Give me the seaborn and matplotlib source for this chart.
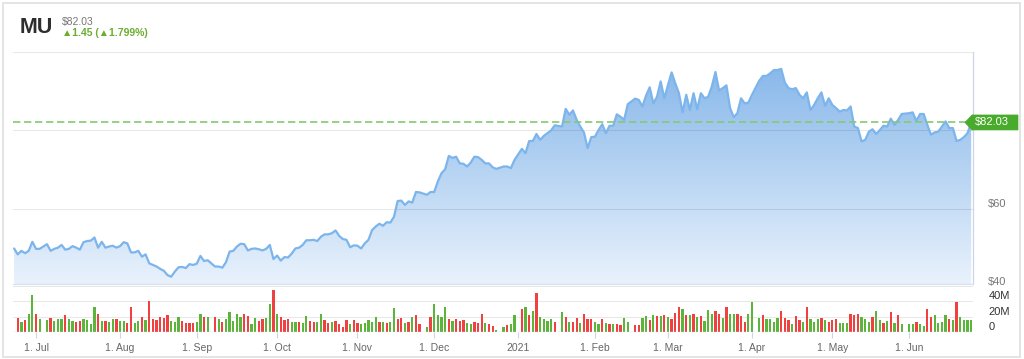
import numpy as np
import pandas as pd
import matplotlib
matplotlib.use("Agg")
import matplotlib.pyplot as plt
import seaborn as sns
from matplotlib.colors import LinearSegmentedColormap
from matplotlib.patches import Polygon, Rectangle

# ---------------- data ----------------
ticker = "MU"
last_price = 82.03
change_abs = 1.45
change_pct = 1.799

first_day = "2020-06-23"
last_day = "2021-06-24"
market_holidays = ["2020-07-03", "2020-09-07", "2020-11-26", "2020-12-25",
                   "2021-01-01", "2021-01-18", "2021-02-15", "2021-04-02",
                   "2021-05-31"]

close = [
    # Jun 23 - Jul 2 2020
    49.9, 48.4, 49.3, 48.7, 49.3, 51.6, 49.8, 49.8,
    # Jul 6 - Sep 4
    51.0, 49.3, 49.8, 50.1, 50.8, 49.6, 49.8, 50.5, 50.1, 49.6,
    51.5, 51.8, 51.9, 52.7, 50.1, 51.6, 50.1, 50.4, 50.6, 50.1,
    50.5, 51.5, 51.2, 48.9, 48.9, 49.3, 47.8, 48.4, 46.1, 45.7,
    45.3, 44.7, 44.2, 43.1, 42.7, 44.0, 45.1, 45.2, 44.9, 45.9,
    45.7, 46.0, 48.0, 46.7, 46.9,
    # Sep 8 - Nov 25
    45.3, 45.3, 45.0, 46.4, 49.1, 49.3, 50.4, 51.1, 51.0, 49.4,
    49.8, 49.9, 49.7, 49.4, 49.8, 50.8, 47.2, 48.1, 46.8, 47.7,
    47.6, 48.6, 49.9, 50.1, 50.8, 52.0, 52.0, 52.1, 51.8, 52.9,
    53.5, 53.5, 53.8, 54.5, 53.1, 52.3, 52.1, 50.2, 50.7, 50.6,
    49.9, 51.2, 52.1, 54.6, 55.5, 56.2, 55.7, 56.6, 56.5, 58.0,
    62.0, 62.1, 61.0, 61.9, 61.6, 64.3, 64.2,
    # Nov 27 - Dec 24
    63.6, 64.3, 64.3, 67.0, 69.1, 70.1, 73.5, 73.0, 73.3, 71.6,
    71.5, 70.8, 71.8, 73.3, 73.2, 72.5, 71.6, 71.6, 70.6, 70.2,
    # Dec 28 - Dec 31
    70.8, 70.8, 70.4, 72.5,
    # Jan 4 - Jan 15 2021
    75.3, 74.2, 77.3, 77.3, 79.1, 77.6, 78.6, 79.3, 80.0, 81.3,
    # Jan 19 - Feb 12
    81.0, 85.5, 84.0, 85.1, 82.7, 81.0, 79.5, 75.5, 78.3, 78.4,
    80.1, 81.6, 79.3, 81.2, 81.2, 84.1, 83.5, 82.7, 86.7,
    # Feb 16 - Apr 1
    88.1, 87.8, 86.1, 88.9, 91.0, 86.9, 88.6, 92.5, 88.2, 91.6,
    94.8, 92.0, 89.5, 84.6, 89.1, 85.2, 89.5, 85.4, 89.5, 88.2,
    88.6, 91.2, 94.9, 90.2, 90.8, 91.5, 85.7, 83.4, 84.4, 88.2,
    86.9, 87.1, 89.1,
    # Apr 5 - May 28
    92.7, 93.9, 93.9, 94.6, 95.4, 95.4, 95.7, 92.2, 90.8, 90.5,
    90.8, 89.1, 88.2, 89.7, 85.2, 86.5, 88.2, 89.7, 86.3, 88.2,
    86.5, 85.7, 84.8, 85.2, 85.1, 86.1, 81.0, 80.6, 77.2, 77.6,
    79.7, 80.3, 79.1, 80.1, 81.2, 81.0, 83.0, 81.4, 82.7, 84.2,
    # Jun 1 - Jun 24
    84.4, 84.6, 82.4, 84.2, 84.2, 81.4, 78.9, 79.5, 79.7, 81.0,
    82.3, 80.6, 80.6, 77.3, 77.6, 78.3, 79.3, 82.03,
]

# volume in millions of shares
volume_m = [
    np.nan, 18, 13, 16, 24, 48, 24, 17,
    16, 18, 14, 17, 17, 22, 17, 14, 13, 14,
    17, 16, 11, 33, 24, 14, 14, 13, 17, 17,
    14, 14, 12, 32, 12, 14, 20, 16, 40, 17,
    16, 20, 18, 22, 14, 13, 20, 14, 12, 12,
    12, 13, 24, 19, 19,
    19, 17, 13, 17, 26, 14, 23, 20, 24, 21,
    10, 18, 14, 17, 18, 36, 55, 23, 20, 16,
    17, 13, 13, 13, 12, 21, 14, 13, 13, 23,
    16, 12, 13, 14, 11, 7, 15, 11, 15, 12,
    11, 12, 16, 13, 20, 13, 13, 12, 13, 31,
    17, 18, 12, 13, 20, 22, 11,
    6, 20, 36, 22, 20, 32, 17, 14, 17, 14,
    15, 12, 11, 13, 12, 23, 12, 10, 8, 3,
    7, 9, 11, 22,
    30, 33, 22, 27, 51, 20, 17, 14, 17, 13,
    26, 20, 13, 13, 18, 12, 23, 17, 17, 13,
    10, 17, 12, 10, 11, 10, 9, 18, 13,
    9, 9, 18, 21, 15, 22, 21, 21, 22, 19,
    17, 25, 32, 30, 22, 22, 23, 20, 21, 14,
    28, 24, 27, 24, 18, 32, 23, 23, 23, 21,
    13, 24, 39,
    18, 22, 17, 17, 13, 18, 27, 18, 15, 11,
    21, 16, 13, 33, 17, 13, 17, 18, 16, 13,
    16, 17, 12, 12, 12, 24, 22, 23, 20, 17,
    13, 20, 27, 16, 12, 14, 26, 12, 22, 10,
    10, 10, 13, 11, 8, 30, 20, 22, 12, 13,
    22, 17, 15, 39, 20, 16, 16, 15,
]

# u = up day (green bar), d = down day (red bar), one per trading day
direction = (
    "ududuudu"
    "uduuu" "duudd" "uuuud" "uduud" "uuddu" "ududd" "ddddu" "uuddd" "duudu"
    "duduu" "uuudd" "uuddu" "ududd" "duudu" "udduu"
    "ddudd" "ddudd" "uuuuu" "duduu" "ddudu" "dd"
    "uduuu" "ududd" "duudd" "duddu"
    "uduu"
    "dudud" "uuuud"
    "ududd" "udddu" "ududu" "dduu"
    "dduud" "ududu" "dddud" "ududu" "uuddu" "duudd" "duu"
    "uduuu" "udddu" "ddudu" "uudud" "dduuu" "ddduu" "uduud" "ududu"
    "uuduu" "dduuu" "ududu" "uuu"
)

month_starts = ["2020-07-01", "2020-08-01", "2020-09-01", "2020-10-01",
                "2020-11-01", "2020-12-01", "2021-01-01", "2021-02-01",
                "2021-03-01", "2021-04-01", "2021-05-01", "2021-06-01"]
month_labels = ["1. Jul", "1. Aug", "1. Sep", "1. Oct", "1. Nov", "1. Dec",
                "2021", "1. Feb", "1. Mar", "1. Apr", "1. May", "1. Jun"]
price_labels = [60, 40]
price_grid = [60, 80, 100]
volume_labels = [0, 20, 40]
volume_grid = [20, 40, 60]

# ---------------- positions (weekday slots, holidays leave a gap) ----------------
weekdays = pd.bdate_range(first_day, last_day)
trading = weekdays.difference(pd.to_datetime(market_holidays))
slot = {d: i for i, d in enumerate(weekdays)}
pos = np.array([slot[d] for d in trading])
dirs = list(direction)
n = min(len(pos), len(close), len(volume_m), len(dirs))

df = pd.DataFrame({"pos": pos[:n], "close": close[:n],
                   "vol": volume_m[:n], "dir": dirs[:n]})
tick_pos = [weekdays.searchsorted(pd.Timestamp(m)) for m in month_starts]

# ---------------- styling ----------------
sns.set_style("white")
plt.rcParams["font.family"] = ["Liberation Sans", "DejaVu Sans"]

W, H = 1024, 359
fig = plt.figure(figsize=(W / 100, H / 100), dpi=100)

def fx(px):
    return px / W

def fy(py):
    return 1 - py / H

line_col = "#7cb5ec"
green_bar = "#5ab53a"
red_bar = "#f0403f"
grid_col = (0, 0, 0, 0.09)
axis_col = "#ccd6eb"

# outer frame
fig.patches.append(Rectangle((fx(3), fy(356.5)), fx(1020 - 3), (356.5 - 2.5) / H,
                             transform=fig.transFigure, fill=False,
                             edgecolor="#e4e4e4", lw=1.4))

left_px, right_px = 13, 973
ax = fig.add_axes([fx(left_px), fy(284), fx(right_px - left_px), (284 - 52) / H])
ax2 = fig.add_axes([fx(left_px), fy(332), fx(right_px - left_px), (332 - 286) / H])

xmin, xmax = -0.3, len(weekdays) - 1 + 0.5
price_lo, price_hi = 40.84, 100.0

# --- price area with gradient fill ---
poly = ax.fill_between(df["pos"], df["close"], price_lo - 1, color="none", lw=0)
cmap = LinearSegmentedColormap.from_list("area", ["#e9f2fc", "#82b4e9"])
grad = np.linspace(0, 1, 256).reshape(-1, 1)
im = ax.imshow(grad, extent=[xmin, xmax, price_lo, price_hi], origin="lower",
               aspect="auto", cmap=cmap, zorder=1, interpolation="bicubic")
im.set_clip_path(poly.get_paths()[0], transform=ax.transData)
sns.lineplot(data=df, x="pos", y="close", color=line_col, lw=1.6, ax=ax,
             zorder=3, sort=True, estimator=None)
for g in price_grid:
    ax.axhline(g, color=grid_col, lw=0.8, zorder=2)
ax.axhline(last_price, color="#84ca70", lw=1.2, ls=(0, (4.4, 2.2)), zorder=4)

ax.set_xlim(xmin, xmax)
ax.set_ylim(price_lo, price_hi)
ax.set_xticks([])
ax.set_yticks([])
ax.set_xlabel("")
ax.set_ylabel("")
for s in ["top", "left"]:
    ax.spines[s].set_visible(False)
ax.spines["right"].set_color(axis_col)
ax.spines["right"].set_linewidth(0.9)
ax.spines["bottom"].set_color("#d8e2f0")
ax.spines["bottom"].set_linewidth(0.9)

for v in price_labels:
    ax.annotate(f"${v}", xy=(1, v), xycoords=("axes fraction", "data"),
                xytext=(11, 1.5), textcoords="offset points", ha="left",
                va="baseline", fontsize=8, color="#777777", annotation_clip=False)

# --- volume bars ---
vdf = df.dropna(subset=["vol"])
sns.barplot(data=vdf, x="pos", y="vol", hue="dir",
            palette={"u": green_bar, "d": red_bar}, native_scale=True,
            dodge=False, width=0.62, legend=False, errorbar=None,
            saturation=1, linewidth=0, ax=ax2, zorder=3)
for g in volume_grid:
    ax2.axhline(g, color=grid_col, lw=0.8, zorder=1)
ax2.axhline(0, color=axis_col, lw=1.0, zorder=4)
ax2.set_xlim(xmin, xmax)
ax2.set_ylim(0, 59.8)
ax2.set_yticks([])
ax2.set_xlabel("")
ax2.set_ylabel("")
for s in ax2.spines.values():
    s.set_visible(False)
ax2.set_xticks(tick_pos)
ax2.set_xticklabels(month_labels)
ax2.tick_params(axis="x", length=4, width=0.8, color=axis_col, pad=4,
                labelsize=7.5, labelcolor="#666666", bottom=True)
for v in volume_labels:
    ax2.annotate("0" if v == 0 else f"{v}M", xy=(1, v),
                 xycoords=("axes fraction", "data"), xytext=(11, 1.5),
                 textcoords="offset points", ha="left", va="baseline",
                 fontsize=8, color="#333333", annotation_clip=False)

# --- current price flag ---
tip = ax.transData.transform((0, last_price))
tip_y = tip[1]
inv = fig.transFigure.inverted()
pts_px = [(965, tip_y), (972, tip_y + 7.5), (1018, tip_y + 7.5),
          (1018, tip_y - 7.5), (972, tip_y - 7.5)]
pts = [inv.transform((px, py)) for px, py in pts_px]
fig.patches.append(Polygon(pts, closed=True, transform=fig.transFigure,
                           facecolor="#48ab2b", edgecolor="#48ab2b", lw=0.5,
                           zorder=10))
lbl = inv.transform((975, tip_y))
fig.text(lbl[0], lbl[1], f"${last_price:.2f}", color="white", fontsize=8,
         va="center", ha="left", zorder=11)

# --- header ---
fig.text(fx(20), fy(33), ticker, fontsize=15.5, fontweight="bold",
         color="#2e2e2e", va="baseline")
fig.text(fx(62), fy(25.3), f"${last_price:.2f}", fontsize=7.5,
         color="#777777", va="baseline")
fig.text(fx(62), fy(36), f"\u25b2{change_abs:.2f} (\u25b2{change_pct:.3f}%)",
         fontsize=7.5, fontweight="bold", color="#6aae2f", va="baseline",
         family=["Liberation Sans", "DejaVu Sans"])

fig.savefig("out.png", dpi=100)
